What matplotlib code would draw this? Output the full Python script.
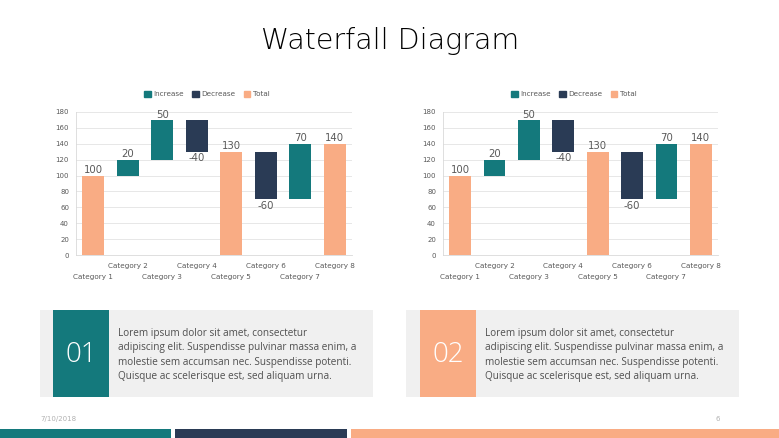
import matplotlib
matplotlib.use("Agg")
import matplotlib.pyplot as plt
from matplotlib.patches import Rectangle
import numpy as np

# ---- data ----
categories = ["Category 1", "Category 2", "Category 3", "Category 4",
              "Category 5", "Category 6", "Category 7", "Category 8"]
values = [100, 20, 50, -40, 130, -60, 70, 140]
kinds = ["Total", "Increase", "Increase", "Decrease", "Total", "Decrease", "Increase", "Total"]
y_ticks = [0, 20, 40, 60, 80, 100, 120, 140, 160, 180]
legend_labels = ["Increase", "Decrease", "Total"]
box_numbers = ["01", "02"]
body_text = ("Lorem ipsum dolor sit amet, consectetur\n"
             "adipiscing elit. Suspendisse pulvinar massa enim, a\n"
             "molestie sem accumsan nec. Suspendisse potenti.\n"
             "Quisque ac scelerisque est, sed aliquam urna.")
title = "Waterfall Diagram"
footer_date = "7/10/2018"
footer_page = "6"

TEAL = "#14797C"
NAVY = "#2A3B55"
ORANGE = "#F9AC84"
colors = {"Increase": TEAL, "Decrease": NAVY, "Total": ORANGE}

W, H = 779, 438
fig = plt.figure(figsize=(W / 100, H / 100), dpi=100)
fig.patch.set_facecolor("white")

# background axes in pixel coordinates
bg = fig.add_axes([0, 0, 1, 1], zorder=-5)
bg.set_xlim(0, W)
bg.set_ylim(H, 0)
bg.axis("off")

def px_rect(x0, y0, x1, y1):
    return [x0 / W, 1 - y1 / H, (x1 - x0) / W, (y1 - y0) / H]

# compute waterfall geometry from values
bottoms, heights = [], []
running = 0
for v, k in zip(values, kinds):
    if k == "Total":
        bottoms.append(0)
        heights.append(v)
        running = v
    else:
        new = running + v
        bottoms.append(min(running, new))
        heights.append(abs(v))
        running = new

def draw_chart(rect, legend_x):
    ax = fig.add_axes(rect)
    for i, (b, h, k, v) in enumerate(zip(bottoms, heights, kinds, values)):
        ax.bar(i, h, bottom=b, width=0.63, color=colors[k], zorder=3)
        if k == "Decrease":
            ax.text(i, b - 2, f"{v}", ha="center", va="top", fontsize=7.3,
                    color="#595959", zorder=4)
        else:
            ax.text(i, b + h + 0.5, f"{v}", ha="center", va="bottom", fontsize=7.3,
                    color="#595959", zorder=2, clip_on=False)
    ax.set_xlim(-0.5, len(categories) - 0.5)
    ax.set_ylim(0, 180)
    ax.set_yticks(y_ticks)
    ax.tick_params(axis="y", labelsize=5, colors="#595959", length=0, pad=5)
    ax.set_xticks([])
    ax.grid(axis="y", color="#E3E3E3", linewidth=0.6, zorder=0)
    for s in ["top", "right"]:
        ax.spines[s].set_visible(False)
    for s in ["left", "bottom"]:
        ax.spines[s].set_color("#D9D9D9")
        ax.spines[s].set_linewidth(0.6)
    trans = ax.get_xaxis_transform()
    for i, c in enumerate(categories):
        yy = -0.154 if i % 2 == 0 else -0.077
        ax.text(i, yy, c, transform=trans, ha="center", va="center",
                fontsize=5.2, color="#595959")
    handles = [Rectangle((0, 0), 1, 1, color=colors[l]) for l in legend_labels]
    fig.legend(handles, legend_labels, loc="center", ncol=3, frameon=False,
               bbox_to_anchor=(legend_x / W, 1 - 94 / H), fontsize=5.2,
               handlelength=0.9, handleheight=0.9, handletextpad=0.4,
               columnspacing=1.1, labelcolor="#595959")
    return ax

draw_chart(px_rect(76, 112, 352, 255), 207)
draw_chart(px_rect(443, 112, 718, 255), 574)

# title
fig.text(390 / W, 1 - 41 / H, title, ha="center", va="center", fontsize=20.5,
         family="DejaVu Sans", fontweight="light", color="#000000")

# text boxes
boxes = [(40, 373, 53, 109, TEAL), (406, 739, 420, 476, ORANGE)]
for (bx0, bx1, sx0, sx1, col), num in zip(boxes, box_numbers):
    bg.add_patch(Rectangle((bx0, 310), bx1 - bx0, 87, color="#F0F0F0", lw=0))
    bg.add_patch(Rectangle((sx0, 310), sx1 - sx0, 87, color=col, lw=0))
    bg.text((sx0 + sx1) / 2, 355, num, ha="center", va="center", fontsize=20,
            color="white", family="Open Sans", fontweight="light")
    bg.text(sx1 + 9, 355, body_text, ha="left", va="center", fontsize=7.2,
            color="#505050", family="Open Sans", linespacing=1.42)

# footer
bg.text(40, 419, footer_date, ha="left", va="center", fontsize=5, color="#B0B0B0")
bg.text(718, 419, footer_page, ha="center", va="center", fontsize=5, color="#B0B0B0")
bg.add_patch(Rectangle((0, 429), 171, 9, color=TEAL, lw=0))
bg.add_patch(Rectangle((175, 429), 172, 9, color=NAVY, lw=0))
bg.add_patch(Rectangle((351, 429), 428, 9, color=ORANGE, lw=0))

fig.savefig("out.png", dpi=100, facecolor="white")
